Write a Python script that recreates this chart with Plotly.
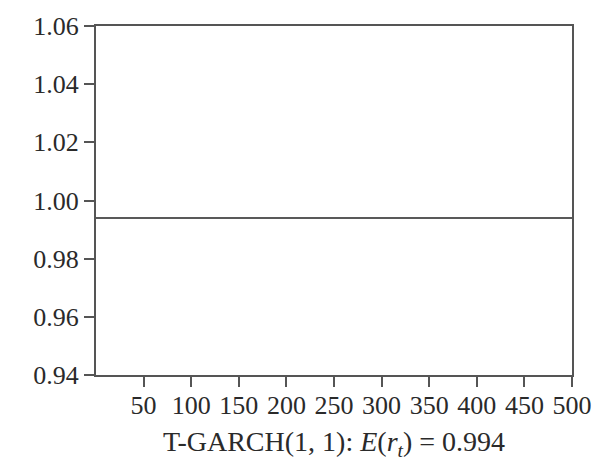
import plotly.graph_objects as go

# Expected return of the T-GARCH(1,1) model over the simulation horizon
horizon = [0, 500]
expected_return = 0.994
x_ticks = [50, 100, 150, 200, 250, 300, 350, 400, 450, 500]
y_ticks = [0.94, 0.96, 0.98, 1.00, 1.02, 1.04, 1.06]

fig = go.Figure()
fig.add_trace(go.Scatter(
    x=horizon,
    y=[expected_return] * len(horizon),
    mode="lines",
    line=dict(color="#222222", width=1.6),
    showlegend=False,
    hoverinfo="skip",
))

serif = "Liberation Serif, Times New Roman, serif"
font = dict(family=serif, size=26, color="#2a2a2a")

fig.update_layout(
    width=613,
    height=468,
    margin=dict(l=96, r=41, t=20, b=93),
    paper_bgcolor="white",
    plot_bgcolor="white",
    font=font,
)
fig.update_xaxes(
    range=[0, 500],
    tickvals=x_ticks,
    ticktext=[str(v) for v in x_ticks],
    ticks="outside",
    ticklen=10,
    tickwidth=2,
    tickcolor="#555555",
    ticklabelstandoff=-4,
    showline=True,
    linecolor="#555555",
    linewidth=2,
    mirror=True,
    showgrid=False,
    zeroline=False,
    title=dict(
        text="T-GARCH(1, 1): <i>E</i>(<i>r</i><sub><i>t</i></sub>) = 0.994",
        font=dict(family=serif, size=28, color="#2a2a2a"),
        standoff=12,
    ),
)
fig.update_yaxes(
    range=[0.94, 1.06],
    tickvals=y_ticks,
    ticktext=[f"{v:.2f}" for v in y_ticks],
    ticks="outside",
    ticklen=10,
    tickwidth=2,
    tickcolor="#555555",
    showline=True,
    linecolor="#555555",
    linewidth=2,
    mirror=True,
    showgrid=False,
    zeroline=False,
)

fig.write_html("out.html")
